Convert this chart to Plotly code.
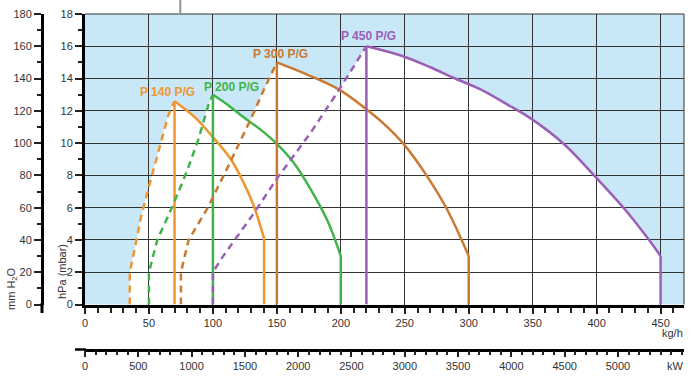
import plotly.graph_objects as go

# ---------------- data (kg/h vs hPa) ----------------
labels = ["P 140 P/G", "P 200 P/G", "P 300 P/G", "P 450 P/G"]
colors = ["#f0962f", "#3fb44b", "#c97a30", "#9b5fb5"]

p140_dash_x = [35, 35, 39, 44, 51, 58, 65, 70]
p140_dash_y = [0, 2, 3.5, 5.5, 7.6, 9.7, 11.7, 12.6]
p140_curve_x = [70, 86, 98, 114, 124, 132, 140]
p140_curve_y = [12.6, 11.6, 10.55, 9.0, 7.55, 6.1, 4.1]

p200_dash_x = [50, 50, 56.5, 68.5, 79.4, 88.5, 97, 100]
p200_dash_y = [0, 2, 4.0, 6.1, 8.2, 10.2, 12.5, 13.0]
p200_curve_x = [100, 112, 124, 137, 150, 163, 176, 189.5, 200]
p200_curve_y = [13.0, 12.35, 11.6, 10.85, 9.95, 8.8, 7.2, 5.2, 3.0]

p300_dash_x = [75, 75, 81, 96, 113.7, 129.4, 139.8, 150]
p300_dash_y = [0, 2, 4.0, 6.0, 8.85, 11.45, 13.3, 15.0]
p300_curve_x = [150, 175, 199, 220, 235, 249, 267, 283, 300]
p300_curve_y = [15.0, 14.2, 13.3, 12.1, 11.1, 9.95, 8.0, 5.9, 3.0]

p450_dash_x = [100, 100, 108, 132, 150, 176, 197, 220]
p450_dash_y = [0, 2, 3.0, 5.65, 7.8, 10.6, 13.1, 16.0]
p450_curve_x = [220, 248, 270, 288, 310, 330, 349, 375, 398, 422, 440, 450]
p450_curve_y = [16.0, 15.4, 14.7, 14.05, 13.3, 12.4, 11.5, 9.9, 8.0, 5.9, 4.1, 3.0]

hpa_ticks = list(range(0, 19, 2))
mmh2o_ticks = list(range(0, 181, 20))
kgh_ticks = list(range(0, 451, 50))
kw_ticks = list(range(0, 5001, 500))
KW_PER_KGH = 12

burners = [
    (p140_dash_x, p140_dash_y, p140_curve_x, p140_curve_y),
    (p200_dash_x, p200_dash_y, p200_curve_x, p200_curve_y),
    (p300_dash_x, p300_dash_y, p300_curve_x, p300_curve_y),
    (p450_dash_x, p450_dash_y, p450_curve_x, p450_curve_y),
]
label_pos = [(64.8, 13.15), (114.6, 13.5), (152.7, 15.55), (221.3, 16.65)]

# ---------------- geometry ----------------
W, H = 700, 376
ML, MR, MT, MB = 30, 16, 14, 10
PW, PH = W - ML - MR, H - MT - MB
X_RANGE = [0, 468.3]
x_dom0 = (85 - ML) / PW
y_dom0 = (H - MB - 304.5) / PH

FONT = "Liberation Sans, Arial, sans-serif"
BLUE = "#c8e8f8"
GRID = "#333333"

fig = go.Figure()

shapes = []
# white operating areas (below gridlines)
for dx, dy, cx, cy in burners:
    xs = list(dx) + list(cx[1:]) + [cx[-1]]
    ys = list(dy) + list(cy[1:]) + [0]
    path = "M " + " L ".join(f"{x},{y}" for x, y in zip(xs, ys)) + " Z"
    shapes.append(dict(type="path", path=path, xref="x", yref="y",
                       fillcolor="white", line=dict(width=0), layer="below"))

for (dx, dy, cx, cy), col, name in zip(burners, colors, labels):
    fig.add_trace(go.Scatter(x=dx, y=dy, mode="lines", showlegend=False, hoverinfo="skip",
                             line=dict(color=col, width=2.5, dash="7px,5px")))
    fig.add_trace(go.Scatter(x=[cx[0], cx[0], None, cx[-1], cx[-1]],
                             y=[0, cy[0], None, cy[-1], 0],
                             mode="lines", showlegend=False, hoverinfo="skip",
                             line=dict(color=col, width=2.5)))
    fig.add_trace(go.Scatter(x=cx, y=cy, mode="lines", showlegend=False, hoverinfo="skip", name=name,
                             line=dict(color=col, width=2.5, shape="spline", smoothing=1.0)))

# helper invisible traces so overlay axes are drawn
fig.add_trace(go.Scatter(x=[0], y=[0], yaxis="y2", mode="lines", showlegend=False, hoverinfo="skip"))
fig.add_trace(go.Scatter(x=[0], y=[0], xaxis="x2", mode="lines", showlegend=False, hoverinfo="skip"))

annotations = []
for (lx, ly), col, name in zip(label_pos, colors, labels):
    annotations.append(dict(x=lx, y=ly, xref="x", yref="y", text=f"<b>{name}</b>", showarrow=False,
                            font=dict(family=FONT, size=12, color=col), xanchor="center", yanchor="middle"))

def px_x(px):
    return (px - ML) / PW

def px_y(py):
    return (H - MB - py) / PH

annotations += [
    dict(x=px_x(62), y=px_y(272), xref="paper", yref="paper", text="hPa (mbar)", textangle=-90,
         showarrow=False, font=dict(family=FONT, size=11, color="#333"), xanchor="center", yanchor="middle"),
    dict(x=px_x(12), y=px_y(289), xref="paper", yref="paper", text="mm H<sub>2</sub>O", textangle=-90,
         showarrow=False, font=dict(family=FONT, size=11, color="#333"), xanchor="center", yanchor="middle"),
    dict(x=px_x(672), y=px_y(333), xref="paper", yref="paper", text="kg/h",
         showarrow=False, font=dict(family=FONT, size=11, color="#333"), xanchor="center", yanchor="middle"),
    dict(x=px_x(675), y=px_y(366), xref="paper", yref="paper", text="kW",
         showarrow=False, font=dict(family=FONT, size=11, color="#333"), xanchor="center", yanchor="middle"),
]

# frame top/right
shapes += [
    dict(type="line", xref="x domain", yref="y domain", x0=1, x1=1, y0=0, y1=1,
         line=dict(color=GRID, width=1), layer="above"),
    dict(type="line", xref="x domain", yref="y domain", x0=0, x1=1, y0=1, y1=1,
         line=dict(color=GRID, width=1), layer="above"),
    # small line above chart
    dict(type="line", xref="x", yref="paper", x0=74.5, x1=74.5, y0=1, y1=1 + MT / PH,
         line=dict(color="#8a969c", width=2)),
    # kW axis line extension to the left
    dict(type="line", xref="paper", yref="paper", x0=px_x(75), x1=px_x(86), y0=px_y(349.5), y1=px_y(349.5),
         line=dict(color="black", width=2.5)),
    # mm H2O axis line extension below
    dict(type="line", xref="paper", yref="paper", x0=px_x(42), x1=px_x(42), y0=px_y(303), y1=px_y(313),
         line=dict(color="black", width=3)),
]

tickfont = dict(family=FONT, size=11, color="#333")

fig.update_layout(
    width=W, height=H, margin=dict(l=ML, r=MR, t=MT, b=MB, autoexpand=False),
    paper_bgcolor="white", plot_bgcolor=BLUE,
    shapes=shapes, annotations=annotations,
    xaxis=dict(domain=[x_dom0, 1], range=X_RANGE, tickvals=kgh_ticks, ticks="outside", ticklen=6,
               tickwidth=1.5, tickcolor="#222", showgrid=True, gridcolor=GRID, gridwidth=1.2,
               showline=True, linecolor="black", linewidth=3, zeroline=False, tickfont=tickfont,
               automargin=False,
               minor=dict(dtick=10, tick0=0, ticks="outside", ticklen=5, tickwidth=1.5, tickcolor="#222",
                          showgrid=False),
               anchor="y"),
    yaxis=dict(domain=[y_dom0, 1], range=[0, 18], tickvals=hpa_ticks, ticks="outside", ticklen=7,
               tickwidth=1.5, tickcolor="#222", showgrid=True, gridcolor=GRID, gridwidth=1.2,
               showline=True, linecolor="black", linewidth=3, zeroline=False, tickfont=tickfont,
               automargin=False,
               minor=dict(dtick=1, tick0=0, ticks="outside", ticklen=4, tickwidth=1.5, tickcolor="#222",
                          showgrid=False),
               anchor="x"),
    yaxis2=dict(overlaying="y", anchor="free", position=px_x(42), side="left", range=[0, 180],
                tickvals=mmh2o_ticks, ticks="outside", ticklen=7, tickwidth=1.5, tickcolor="#222",
                showgrid=False, showline=True, linecolor="black", linewidth=3, zeroline=False,
                tickfont=tickfont, automargin=False,
                minor=dict(dtick=10, tick0=0, ticks="outside", ticklen=4, tickwidth=1.5, tickcolor="#222",
                           showgrid=False)),
    xaxis2=dict(overlaying="x", anchor="free", position=px_y(349.5), side="bottom",
                range=[X_RANGE[0] * KW_PER_KGH, X_RANGE[1] * KW_PER_KGH],
                tickvals=kw_ticks, ticks="outside", ticklen=6, tickwidth=1.5, tickcolor="#222",
                showgrid=False, showline=True, linecolor="black", linewidth=2.5, zeroline=False,
                tickfont=tickfont, automargin=False,
                minor=dict(dtick=100, tick0=0, ticks="outside", ticklen=4, tickwidth=1.5, tickcolor="#222",
                           showgrid=False)),
)

fig.write_html("out.html", config={"displayModeBar": False},
               post_script="document.body.style.margin='0';")
